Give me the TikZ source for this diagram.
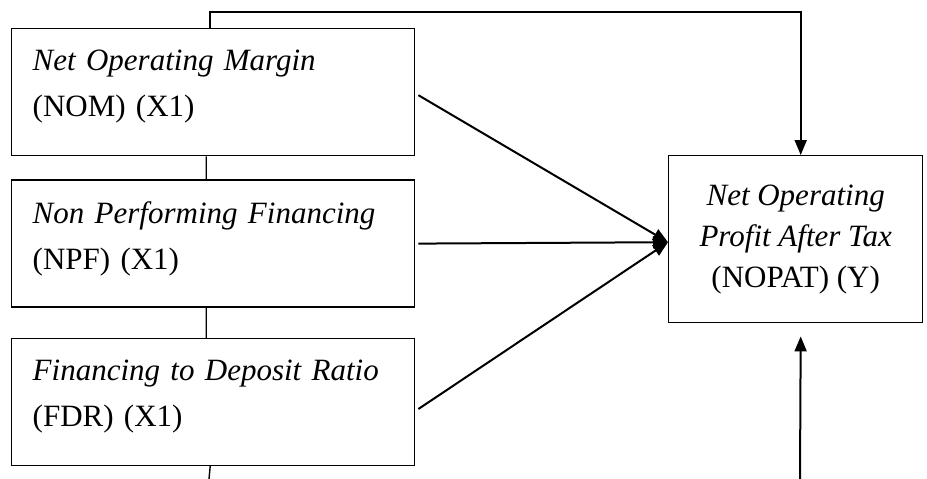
\documentclass[tikz,border=0pt]{standalone}
\usepackage{fontspec}
\setmainfont{Liberation Serif}
\usetikzlibrary{positioning, arrows.meta}
\tikzset{
    >={Triangle[length=15pt, width=12pt]}, % filled heads on the arrows
    every node/.style={font=\fontsize{31}{46}\selectfont}, % text size and line spacing
}

\begin{document}
\begin{tikzpicture}[
        x=1pt, y=-1pt,
        styleBox/.style={draw, line width=1.4pt, minimum width=403pt, minimum height=127pt,
                         text width=361pt, inner xsep=21pt, align=left},
        styleArrow/.style={->, line width=2pt},
        styleLine/.style={line width=1.4pt},
    ]
    \useasboundingbox (0,0) rectangle (927,479);

    \node[styleBox, anchor=north west] (nom) at (11,28) {\textit{Net Operating Margin}\\(NOM) (X1)\\[-29pt]\mbox{}};
    \node[styleBox, below=23pt of nom] (npf) {\textit{Non Performing Financing}\\(NPF) (X1)\\[-29pt]\mbox{}};
    \node[styleBox, below=30pt of npf] (fdr) {\textit{Financing to Deposit Ratio}\\(FDR) (X1)\\[-29pt]\mbox{}};

    \node[draw, line width=1.4pt, minimum width=254pt, minimum height=167pt, align=center,
          font=\fontsize{31}{41}\selectfont, anchor=north west] (nopat) at (668,155)
          {\textit{Net Operating}\\\textit{Profit After Tax}\\(NOPAT) (Y)};

    \coordinate (yIn) at (800,479);
    \coordinate (fdrOut) at (209,479);

    \draw[styleLine]
    ([xshift=-7pt]nom.south) -- ([xshift=-7pt]npf.north)
    ([xshift=-7pt]npf.south) -- ([xshift=-7pt]fdr.north)
    ([xshift=-3pt]fdr.south) -- (fdrOut);

    \draw[styleArrow] ([xshift=-3pt]nom.north) -- ++(0,-16) -| ([xshift=5pt]nopat.north);
    \draw[styleArrow] ([xshift=3pt, yshift=-3pt]nom.east) -- ([yshift=-3pt]nopat.west);
    \draw[styleArrow] ([xshift=3pt]npf.east) -- ([yshift=-3pt]nopat.west);
    \draw[styleArrow] ([xshift=3pt, yshift=-7pt]fdr.east) -- ([yshift=-3pt]nopat.west);
    \draw[styleArrow] (yIn) -- ([xshift=5pt, yshift=-13pt]nopat.south);
\end{tikzpicture}
\end{document}
